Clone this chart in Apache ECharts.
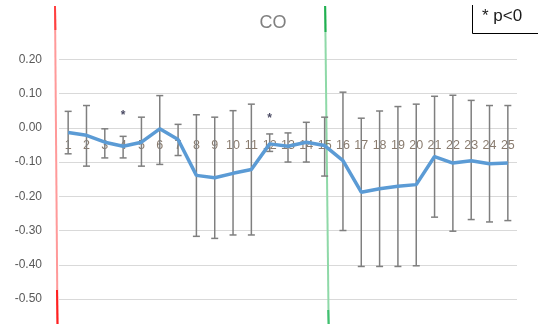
<!DOCTYPE html>
<html><head><meta charset="utf-8">
<script src="https://cdn.jsdelivr.net/npm/echarts@6/dist/echarts.min.js"></script>
<style>html,body{margin:0;padding:0;background:#fff}#c{width:538px;height:324px}</style>
</head><body><div id="c"></div>
<script>
var categories = ['1','2','3','4','5','6','7','8','9','10','11','12','13','14','15','16','17','18','19','20','21','22','23','24','25'];
var meanValues = [-0.014,-0.022,-0.042,-0.054,-0.042,-0.003,-0.034,-0.139,-0.146,-0.133,-0.122,-0.047,-0.054,-0.042,-0.052,-0.096,-0.188,-0.178,-0.171,-0.166,-0.084,-0.103,-0.096,-0.105,-0.103];
var upperValues = [0.048,0.065,-0.003,-0.025,0.031,0.094,0.010,0.038,0.031,0.050,0.069,-0.018,-0.015,0.016,0.031,0.104,0.028,0.049,0.062,0.069,0.092,0.095,0.080,0.065,0.065];
var lowerValues = [-0.076,-0.112,-0.088,-0.088,-0.112,-0.107,-0.081,-0.317,-0.323,-0.313,-0.313,-0.069,-0.100,-0.100,-0.141,-0.300,-0.405,-0.405,-0.405,-0.403,-0.261,-0.302,-0.268,-0.275,-0.271];
var starCategories = ['4','12'];
var starValues = [0.044,0.034];
var yTicks = [-0.5,-0.4,-0.3,-0.2,-0.1,0,0.1,0.2];

var chart = echarts.init(document.getElementById('c'));
var errData = categories.map(function(c,i){return [i, lowerValues[i], upperValues[i]];});
var option = {
  animation:false,
  title:{text:'CO',left:268,top:9,textAlign:'center',textStyle:{fontFamily:'Liberation Sans',fontSize:18,fontWeight:'normal',color:'#808080'}},
  grid:{left:59,right:21,top:59.3,bottom:25},
  xAxis:{type:'category',data:categories,boundaryGap:true,
    axisLine:{show:false},axisTick:{show:false},axisLabel:{show:false}},
  yAxis:{type:'value',min:-0.5,max:0.2,interval:0.1,
    axisLine:{show:false},axisTick:{show:false},
    splitLine:{lineStyle:{color:'#d9d9d9',width:1}},
    axisLabel:{margin:17,fontSize:12,color:'#595959',fontFamily:'Liberation Sans',formatter:function(v){return v.toFixed(2);}}},
  series:[
    {type:'scatter',data:categories.map(function(c){return [c,0];}),symbolSize:0,z:1,silent:true,
     label:{show:true,position:'bottom',distance:11,formatter:function(p){return p.value[0];},
       fontSize:12.5,color:'#6b5a4a',fontFamily:'Liberation Sans'}},
    {type:'custom',data:errData,z:2,
     renderItem:function(params,api){
       var x=api.value(0);
       var lo=api.coord([x,api.value(1)]);
       var hi=api.coord([x,api.value(2)]);
       var w=3.5;
       var st={stroke:'#7f7f7f',lineWidth:1.5};
       return {type:'group',children:[
         {type:'line',shape:{x1:lo[0],y1:lo[1],x2:hi[0],y2:hi[1]},style:st},
         {type:'line',shape:{x1:lo[0]-w,y1:lo[1],x2:lo[0]+w,y2:lo[1]},style:st},
         {type:'line',shape:{x1:hi[0]-w,y1:hi[1],x2:hi[0]+w,y2:hi[1]},style:st}
       ]};
     }},
    {type:'line',data:meanValues,z:3,symbol:'none',smooth:false,
     lineStyle:{color:'#5B9BD5',width:3.5}},
    {type:'scatter',data:starCategories.map(function(c,i){return [c,starValues[i]];}),symbolSize:0,z:4,
     label:{show:true,formatter:'*',position:'inside',fontSize:12,fontWeight:'bold',color:'#1a1a3a',offset:[0,3]}}
  ]
};
chart.setOption(option);
var xg = chart.convertToPixel({xAxisIndex:0}, '15');
var leftX = chart.getModel().getComponent('grid').coordinateSystem.getRect().x;
chart.setOption({graphic:[
  {type:'line',shape:{x1:leftX-4,y1:6,x2:leftX-1.5,y2:324},style:{stroke:'#ff9a9a',lineWidth:2}},
  {type:'line',shape:{x1:leftX-4,y1:6,x2:leftX-3.6,y2:30},style:{stroke:'#ff4040',lineWidth:2}},
  {type:'line',shape:{x1:leftX-2,y1:290,x2:leftX-1.5,y2:324},style:{stroke:'#ff2020',lineWidth:2}},
  {type:'line',shape:{x1:xg+0.5,y1:6,x2:xg+4,y2:324},style:{stroke:'#8fd9a8',lineWidth:2}},
  {type:'line',shape:{x1:xg+0.5,y1:6,x2:xg+0.9,y2:32},style:{stroke:'#20b050',lineWidth:2}},
  {type:'line',shape:{x1:xg+3.6,y1:310,x2:xg+4,y2:324},style:{stroke:'#40c070',lineWidth:2}},
  {type:'polyline',shape:{points:[[472.5,5],[472.5,33.5],[538,33.5]]},style:{stroke:'#000',lineWidth:1,fill:null}},
  {type:'text',left:482,top:8,style:{text:'* p<0',font:'17px "Liberation Sans"',fill:'#1a1a1a'}}
]});
</script></body></html>
